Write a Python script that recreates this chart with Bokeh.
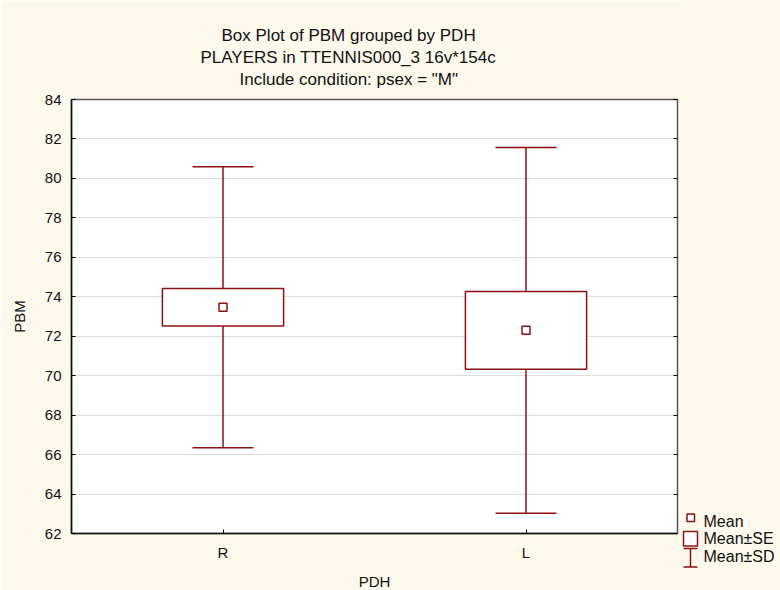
from bokeh.plotting import figure
from bokeh.layouts import row
from bokeh.models import (FactorRange, Range1d, LinearAxis, Whisker, TeeHead, Title,
                          ColumnDataSource)
from bokeh.core.properties import value
from bokeh.embed import file_html
from bokeh.resources import INLINE

# ---- data ----
groups = ["R", "L"]
means = [73.47, 72.30]
se = [0.95, 1.97]
sd = [7.12, 9.27]
y_ticks = [62, 64, 66, 68, 70, 72, 74, 76, 78, 80, 82, 84]
title_lines = ["Box Plot of PBM grouped by  PDH",
               "PLAYERS in TTENNIS000_3 16v*154c",
               'Include condition: psex = "M"']
legend_labels = ["Mean", "Mean\u00b1SE", "Mean\u00b1SD"]
x_label = "PDH"
y_label = "PBM"

DARK_RED = "#8b1010"
CREAM = "#fdf8ec"
FONT = "Liberation Sans"
TXT = "#111111"

src = ColumnDataSource(dict(
    g=groups,
    mean=means,
    se_lo=[m - s for m, s in zip(means, se)],
    se_hi=[m + s for m, s in zip(means, se)],
    sd_lo=[m - s for m, s in zip(means, sd)],
    sd_hi=[m + s for m, s in zip(means, sd)],
))

p = figure(x_range=FactorRange(*groups), y_range=Range1d(62, 84), title=None,
           frame_width=606, frame_height=434,
           min_border_left=71, min_border_right=3, min_border_top=99, min_border_bottom=57,
           output_backend="svg", toolbar_location=None,
           background_fill_color="white", border_fill_color=CREAM,
           outline_line_color="#555555", outline_line_width=1.5)

# whiskers (Mean +- SD) under the boxes
p.add_layout(Whisker(base="g", upper="sd_hi", lower="sd_lo", source=src, dimension="height",
                     line_color=DARK_RED, line_width=1.5, level="underlay",
                     upper_head=TeeHead(size=61, line_color=DARK_RED, line_width=1.5),
                     lower_head=TeeHead(size=61, line_color=DARK_RED, line_width=1.5)))
# boxes (Mean +- SE)
p.vbar(x="g", top="se_hi", bottom="se_lo", width=0.4, source=src,
       fill_color="white", line_color=DARK_RED, line_width=1.5)
# mean markers
p.scatter(x="g", y="mean", marker="square", size=8, source=src,
          fill_color="white", line_color=DARK_RED, line_width=1.5)

xa = p.xaxis[0]
ya = p.yaxis[0]
for ax in (xa, ya):
    ax.major_tick_in = 4
    ax.major_tick_out = 0
    ax.minor_tick_line_color = None
    ax.axis_line_color = "#111111"
    ax.axis_line_width = 1.5
    ax.major_label_text_font = FONT
    ax.major_label_text_font_size = "15px"
    ax.major_label_text_color = TXT
    ax.axis_label_text_font = FONT
    ax.axis_label_text_font_size = "15px"
    ax.axis_label_text_font_style = "normal"
    ax.axis_label_text_color = TXT
ya.ticker = y_ticks
ya.major_label_standoff = 10
ya.axis_label = y_label
ya.axis_label_standoff = 14
xa.major_label_standoff = 10
xa.axis_label = x_label
xa.axis_label_standoff = 9

p.xgrid.grid_line_color = None
p.ygrid.grid_line_color = "#dcdcdc"
p.ygrid.grid_line_width = 1

# mirrored inner ticks on the right
p.add_layout(LinearAxis(ticker=y_ticks, major_tick_in=4, major_tick_out=0,
                        minor_tick_line_color=None, axis_line_color=None,
                        major_label_overrides={t: "" for t in y_ticks},
                        major_label_standoff=0), "right")

# small blank spacer between frame and the title block
p.add_layout(Title(text=" ", standoff=2, text_font=FONT, text_font_size="6px",
                   text_color=CREAM), "above")
# title lines (added nearest-to-frame first)
title_offsets = [150, 129, 168]
for txt, off in reversed(list(zip(title_lines, title_offsets))):
    p.add_layout(Title(text=txt, align="left", offset=off, standoff=1,
                       text_font=FONT, text_font_size="17px", text_font_style="normal",
                       text_color=TXT), "above")

# ---- legend panel (a separate, axis-less strip to the right) ----
lg = figure(x_range=Range1d(0, 100), y_range=Range1d(590, 0),
            frame_width=100, frame_height=590, min_border=0,
            x_axis_type=None, y_axis_type=None, title=None,
            output_backend="svg", toolbar_location=None,
            background_fill_color=CREAM, border_fill_color=CREAM, outline_line_color=None)
for fig in (p, lg):
    try:
        fig.frame_align = False
    except Exception:
        pass
lg.xgrid.grid_line_color = None
lg.ygrid.grid_line_color = None
lg.quad(left=[3], right=[17], top=[531], bottom=[545.5],
        fill_color="white", line_color=DARK_RED, line_width=1.5)
lg.quad(left=[6.5], right=[14], top=[513.5], bottom=[521],
        fill_color="white", line_color=DARK_RED, line_width=1.5)
lg.segment(x0=[10, 3, 3], y0=[548, 548, 566.5], x1=[10, 17, 17], y1=[566.5, 548, 566.5],
           line_color=DARK_RED, line_width=1.5)
lg.text(x=[23, 23, 23], y=[521, 538, 556], text=legend_labels,
        text_font=value(FONT), text_font_size="16px", text_color=TXT,
        text_baseline="middle", text_align="left")

open("out.html", "w").write(file_html(row(p, lg), INLINE))
